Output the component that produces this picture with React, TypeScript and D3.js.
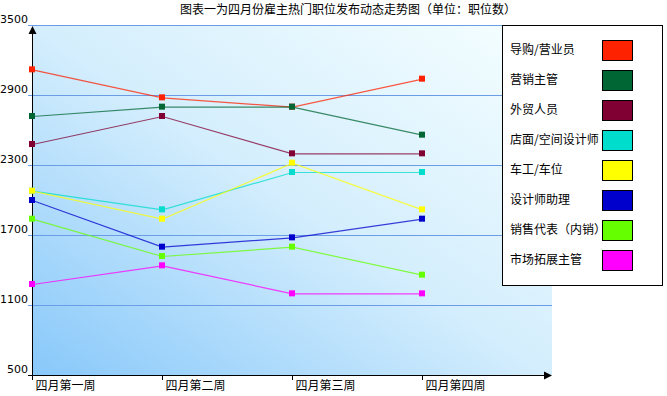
import React, { useEffect, useRef } from 'react';
import * as d3 from 'd3';

const weeks = ['四月第一周', '四月第二周', '四月第三周', '四月第四周'];
const seriesNames = ['导购/营业员', '营销主管', '外贸人员', '店面/空间设计师', '车工/车位', '设计师助理', '销售代表（内销）', '市场拓展主管'];
const seriesColors = ['#ff2200', '#006633', '#800033', '#00ddcc', '#ffff00', '#0000cc', '#66ff00', '#ff00ff'];
const daogou = [3120, 2880, 2800, 3040];
const yingxiao = [2720, 2800, 2800, 2560];
const waimao = [2480, 2720, 2400, 2400];
const dianmian = [2080, 1920, 2240, 2240];
const chegong = [2080, 1840, 2320, 1920];
const zhuli = [2000, 1600, 1680, 1840];
const xiaoshou = [1840, 1520, 1600, 1360];
const shichang = [1280, 1440, 1200, 1200];
const yTicks = [500, 1100, 1700, 2300, 2900, 3500];

const allSeries = [daogou, yingxiao, waimao, dianmian, chegong, zhuli, xiaoshou, shichang];

const FONT = '"Noto Sans CJK SC", "Noto Sans", sans-serif';

export default function App() {
  const ref = useRef<SVGSVGElement | null>(null);

  useEffect(() => {
    const svg = d3.select(ref.current);
    svg.selectAll('*').remove();

    const left = 32, right = 552, top = 25, bottom = 375;

    const x = d3.scaleBand<string>().domain(weeks).range([left, right]).paddingInner(0).paddingOuter(0).align(0);
    const y = d3.scaleLinear().domain([500, 3500]).range([bottom, top]);

    const defs = svg.append('defs');
    const grad = defs.append('linearGradient')
      .attr('id', 'bg')
      .attr('x1', '0').attr('y1', '1').attr('x2', '1').attr('y2', '0');
    grad.append('stop').attr('offset', '0%').attr('stop-color', '#88c8fa');
    grad.append('stop').attr('offset', '50%').attr('stop-color', '#d4eefd');
    grad.append('stop').attr('offset', '100%').attr('stop-color', '#f6ffff');

    svg.append('rect')
      .attr('x', left).attr('y', top)
      .attr('width', right - left).attr('height', bottom - top)
      .attr('fill', 'url(#bg)');

    // title
    svg.append('text')
      .attr('x', 348).attr('y', 14)
      .attr('text-anchor', 'middle')
      .style('font-family', FONT)
      .style('font-size', '12px')
      .attr('fill', '#000')
      .text('图表一为四月份雇主热门职位发布动态走势图（单位：职位数）');

    // grid lines and y labels
    yTicks.forEach((t) => {
      if (t !== 500) {
        svg.append('line')
          .attr('x1', 28).attr('x2', right)
          .attr('y1', y(t) + 0.5).attr('y2', y(t) + 0.5)
          .attr('stroke', '#6b9ce6').attr('stroke-width', 1);
      }
      svg.append('text')
        .attr('x', 28).attr('y', y(t) - 2)
        .attr('text-anchor', 'end')
        .style('font-family', '"DejaVu Sans", sans-serif')
        .style('font-size', '11px')
        .attr('fill', '#000')
        .text(String(t));
    });

    // axes
    svg.append('line')
      .attr('x1', left + 0.5).attr('x2', left + 0.5)
      .attr('y1', bottom + 5).attr('y2', top + 4)
      .attr('stroke', '#000');
    svg.append('path')
      .attr('d', `M${left + 0.5},${top + 1} L${left - 3.5},${top + 9} L${left + 4.5},${top + 9} Z`)
      .attr('fill', '#000');
    svg.append('line')
      .attr('x1', left - 4).attr('x2', right - 4)
      .attr('y1', bottom + 0.5).attr('y2', bottom + 0.5)
      .attr('stroke', '#000');
    svg.append('path')
      .attr('d', `M${right},${bottom + 0.5} L${right - 8},${bottom - 3.5} L${right - 8},${bottom + 4.5} Z`)
      .attr('fill', '#000');

    weeks.forEach((w) => {
      const px = (x(w) as number) + 0.5;
      svg.append('line')
        .attr('x1', px).attr('x2', px)
        .attr('y1', bottom).attr('y2', bottom + 5)
        .attr('stroke', '#000');
      svg.append('text')
        .attr('x', px + 3).attr('y', bottom + 15)
        .style('font-family', FONT)
        .style('font-size', '12px')
        .attr('fill', '#000')
        .text(w);
    });

    const line = d3.line<number>()
      .x((_, i) => (x(weeks[i]) as number) + 0.5)
      .y((d) => y(d) + 0.5);

    allSeries.forEach((vals, si) => {
      svg.append('path')
        .datum(vals)
        .attr('d', line)
        .attr('fill', 'none')
        .attr('stroke', seriesColors[si])
        .attr('stroke-opacity', 0.75)
        .attr('stroke-width', 1.2);
    });
    allSeries.forEach((vals, si) => {
      svg.selectAll(null)
        .data(vals)
        .enter()
        .append('rect')
        .attr('x', (_, i) => (x(weeks[i]) as number) - 3)
        .attr('y', (d) => y(d) - 3)
        .attr('width', 6).attr('height', 6)
        .attr('fill', seriesColors[si]);
    });

    // legend
    const lg = svg.append('g');
    lg.append('rect')
      .attr('x', 502.5).attr('y', 25.5)
      .attr('width', 160).attr('height', 260)
      .attr('fill', '#fff').attr('stroke', '#000');
    seriesNames.forEach((n, i) => {
      const ty = 40 + i * 30;
      lg.append('text')
        .attr('x', 510).attr('y', ty + 14)
        .style('font-family', FONT)
        .style('font-size', '12px')
        .attr('fill', '#000')
        .text(n);
      lg.append('rect')
        .attr('x', 602.5).attr('y', ty + 0.5)
        .attr('width', 30).attr('height', 20)
        .attr('fill', seriesColors[i])
        .attr('stroke', '#000');
    });
  }, []);

  return (
    <svg ref={ref} width={667} height={396} style={{ position: 'absolute', left: 0, top: 0, background: '#fff' }} />
  );
}
